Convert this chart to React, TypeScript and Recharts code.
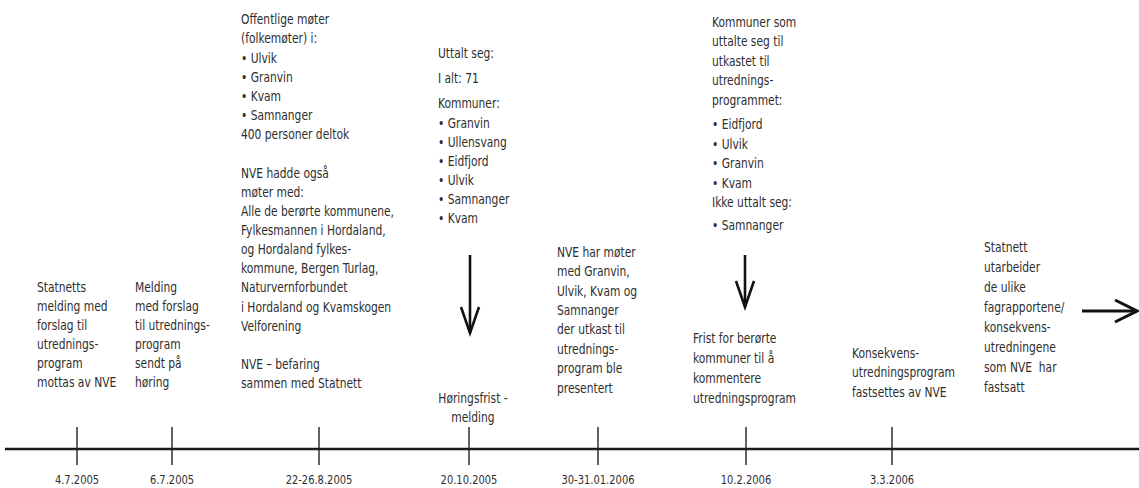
import React from 'react';
import { ComposedChart, XAxis, YAxis, Scatter } from 'recharts';

const W = 1139;
const H = 488;
const AXIS_Y = 449;
const FONT = '"DejaVu Sans Condensed", "Liberation Sans Narrow", sans-serif';
const INK = '#2e2e2e';
const SQUEEZE = 0.85;

// timeline dates and their place along the line
const dates = ['4.7.2005', '6.7.2005', '22-26.8.2005', '20.10.2005', '30-31.01.2006', '10.2.2006', '3.3.2006'];
const slots = [77, 172, 319, 469, 598, 746, 892];

// event texts
const statnettsMelding = ['Statnetts', 'melding med', 'forslag til', 'utrednings-', 'program', 'mottas av NVE'];
const meldingSendt = ['Melding', 'med forslag', 'til utrednings-', 'program', 'sendt på', 'høring'];
const offentligeMoter = [
  'Offentlige møter', '(folkemøter) i:', '• Ulvik', '• Granvin', '• Kvam', '• Samnanger', '400 personer deltok', '',
  'NVE hadde også', 'møter med:', 'Alle de berørte kommunene,', 'Fylkesmannen i Hordaland,', 'og Hordaland fylkes-',
  'kommune, Bergen Turlag,', 'Naturvernforbundet', 'i Hordaland og Kvamskogen', 'Velforening', '',
  'NVE – befaring', 'sammen med Statnett',
];
const uttaltSeg = ['Uttalt seg:', 'I alt: 71', 'Kommuner:', '• Granvin', '• Ullensvang', '• Eidfjord', '• Ulvik', '• Samnanger', '• Kvam'];
const horingsfrist = ['Høringsfrist -', 'melding'];
const nveMoter = ['NVE har møter', 'med Granvin,', 'Ulvik, Kvam og', 'Samnanger', 'der utkast til', 'utrednings-', 'program ble', 'presentert'];
const kommunerUttalte = ['Kommuner som', 'uttalte seg til', 'utkastet til', 'utrednings-', 'programmet:', '• Eidfjord', '• Ulvik', '• Granvin', '• Kvam', 'Ikke uttalt seg:', '• Samnanger'];
const fristKommuner = ['Frist for berørte', 'kommuner til å', 'kommentere', 'utredningsprogram'];
const konsekvens = ['Konsekvens-', 'utredningsprogram', 'fastsettes av NVE'];
const statnettUtarbeider = ['Statnett', 'utarbeider', 'de ulike', 'fagrapportene/', 'konsekvens-', 'utredningene', 'som NVE  har', 'fastsatt'];

// where each text block sits
const blocks = [
  { lines: statnettsMelding, x: 37, y: 287, lh: 19 },
  { lines: meldingSendt, x: 135, y: 287, lh: 19 },
  { lines: offentligeMoter, x: 241, y: 19.5, lh: 19.15 },
  { lines: uttaltSeg, x: 438, y: 53, lh: 19, gaps: { 1: 6, 2: 6, 3: 1 } },
  { lines: horingsfrist, x: 473, y: 398, lh: 19, anchor: 'middle' },
  { lines: nveMoter, x: 557, y: 252, lh: 19.4 },
  { lines: kommunerUttalte, x: 712, y: 22, lh: 19.5, gaps: { 5: 5, 10: 3 } },
  { lines: fristKommuner, x: 693, y: 338, lh: 20 },
  { lines: konsekvens, x: 852, y: 353, lh: 19.5 },
  { lines: statnettUtarbeider, x: 984, y: 247, lh: 20 },
];

const arrows = [
  { x: 470, y: 255, len: 78, dir: 'down' },
  { x: 745, y: 255, len: 52, dir: 'down' },
  { x: 1082, y: 311, len: 55, dir: 'right' },
];

const TextBlock = (props: any) => {
  const { cx, cy, payload } = props;
  if (cx == null) return null;
  let off = 0;
  return (
    <g transform={`translate(${cx},0) scale(${SQUEEZE},1) translate(${-cx},0)`}>
      <text x={cx} y={cy} fontFamily={FONT} fontSize={14} fill={INK} textAnchor={payload.anchor || 'start'} style={{ whiteSpace: 'pre' }}>
        {payload.lines.map((t: string, i: number) => {
          if (i > 0) off += payload.lh + ((payload.gaps && payload.gaps[i]) || 0);
          return (
            <tspan key={i} x={cx} y={cy + off} dominantBaseline="central">
              {t}
            </tspan>
          );
        })}
      </text>
    </g>
  );
};

const Arrow = (props: any) => {
  const { cx, cy, payload } = props;
  if (cx == null) return null;
  const L = payload.len;
  if (payload.dir === 'down') {
    return (
      <g stroke="#111" strokeWidth={2.6} fill="none">
        <line x1={cx} y1={cy} x2={cx} y2={cy + L} />
        <polyline points={`${cx - 9},${cy + L - 26} ${cx},${cy + L} ${cx + 9},${cy + L - 26}`} />
      </g>
    );
  }
  return (
    <g stroke="#111" strokeWidth={3} fill="none">
      <line x1={cx} y1={cy} x2={cx + L} y2={cy} />
      <polyline points={`${cx + L - 22},${cy - 11} ${cx + L},${cy} ${cx + L - 22},${cy + 11}`} />
    </g>
  );
};

const DateTick = (props: any) => {
  const { x, y, payload } = props;
  const i = slots.indexOf(payload.value);
  return (
    <g>
      <line x1={x} y1={y - 22} x2={x} y2={y + 16} stroke="#222" strokeWidth={1.4} />
      <g transform={`translate(${x},0) scale(${SQUEEZE},1) translate(${-x},0)`}>
        <text x={x} y={y + 31} textAnchor="middle" dominantBaseline="central" fontFamily={FONT} fontSize={13} fill={INK}>
          {dates[i]}
        </text>
      </g>
    </g>
  );
};

export default function App() {
  return (
    <div style={{ width: W, height: H, background: '#fff' }}>
      <style>{'body{margin:0}'}</style>
      <ComposedChart width={W} height={H} margin={{ top: 0, right: 0, bottom: H - AXIS_Y - 1, left: 5 }}>
        <XAxis
          type="number"
          dataKey="x"
          domain={[5, W]}
          ticks={slots}
          height={1}
          tickSize={0}
          tickMargin={0}
          tickLine={false}
          axisLine={{ stroke: '#1a1a1a', strokeWidth: 2.6 }}
          tick={<DateTick />}
          interval={0}
          allowDataOverflow
        />
        <YAxis type="number" dataKey="y" domain={[0, AXIS_Y]} reversed hide allowDataOverflow />
        <Scatter data={blocks} shape={<TextBlock />} isAnimationActive={false} />
        <Scatter data={arrows} shape={<Arrow />} isAnimationActive={false} />
      </ComposedChart>
    </div>
  );
}
